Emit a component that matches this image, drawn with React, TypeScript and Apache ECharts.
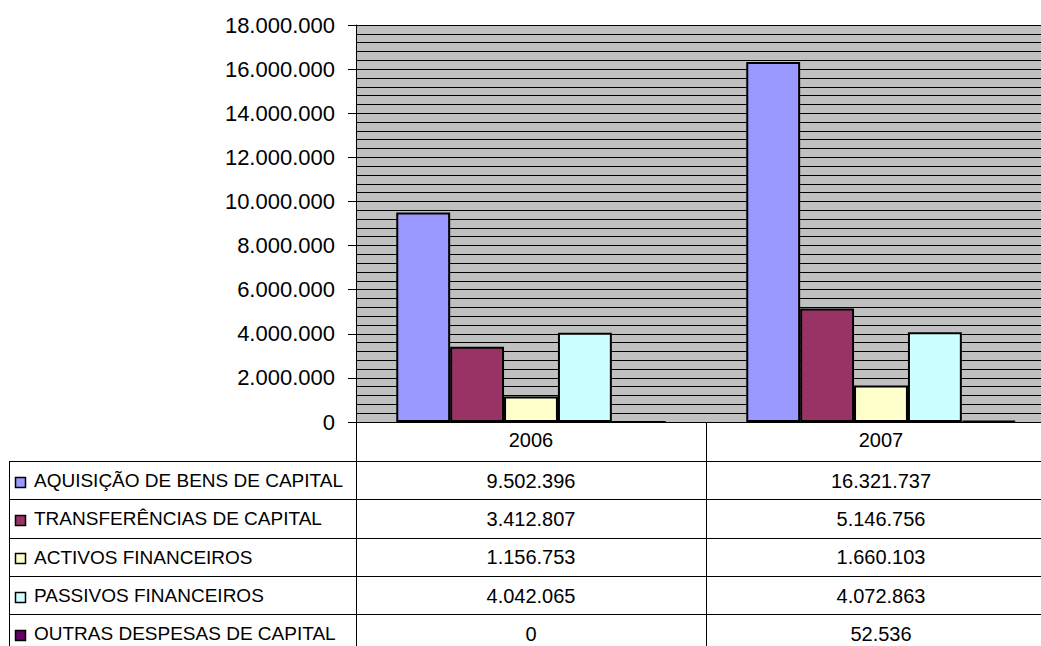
import React, { useEffect, useRef } from "react";
import * as echarts from "echarts";

const years = ["2006", "2007"];
const seriesNames = [
  "AQUISIÇÃO DE BENS DE CAPITAL",
  "TRANSFERÊNCIAS DE CAPITAL",
  "ACTIVOS FINANCEIROS",
  "PASSIVOS FINANCEIROS",
  "OUTRAS DESPESAS DE CAPITAL",
];
const aquisicao = [9502396, 16321737];
const transferencias = [3412807, 5146756];
const activos = [1156753, 1660103];
const passivos = [4042065, 4072863];
const outras = [0, 52536];
const seriesValues = [aquisicao, transferencias, activos, passivos, outras];
const seriesColors = ["#9999FF", "#993366", "#FFFFCC", "#CCFFFF", "#660066"];
const yMin = 0;
const yMax = 18000000;
const yStep = 2000000;

const fmt = (v: number) => String(v).replace(/\B(?=(\d{3})+(?!\d))/g, ".");

const W = 1041;
const H = 646;
const FONT = "'Liberation Sans', Arial, sans-serif";

export default function App() {
  const ref = useRef<HTMLDivElement>(null);
  useEffect(() => {
    document.body.style.margin = "0";
    const chart = echarts.init(ref.current!, undefined, { renderer: "svg" });
    const axisY = 422;
    const catCenter = 440;
    const firstRowTop = 461.5;
    const rowH = 38.3;
    const rowCenters = seriesNames.map((_, i) => firstRowTop + rowH * i + rowH / 2);
    const rowLines = seriesNames.map((_, i) => Math.round(firstRowTop + rowH * i - 0.5) + 0.5);

    const valueAxes = seriesValues.map((vals, i) => ({
      type: "category",
      gridIndex: 0,
      position: "bottom",
      data: vals.map(fmt),
      axisLine: { show: false },
      axisTick: { show: false },
      splitLine: { show: false },
      axisLabel: {
        interval: 0,
        margin: rowCenters[i] - axisY,
        verticalAlign: "middle",
        fontSize: 20,
        fontFamily: FONT,
        color: "#000",
      },
    }));

    const graphics: any[] = [];
    rowLines.forEach((y) => {
      graphics.push({
        type: "line",
        shape: { x1: 9, y1: y, x2: W, y2: y },
        style: { stroke: "#000", lineWidth: 1 },
        silent: true,
      });
    });
    graphics.push({
      type: "line",
      shape: { x1: 9.5, y1: rowLines[0], x2: 9.5, y2: H },
      style: { stroke: "#000", lineWidth: 1 },
      silent: true,
    });
    seriesNames.forEach((name, i) => {
      const cy = rowCenters[i] + 1;
      graphics.push({
        type: "rect",
        shape: { x: 15.5, y: Math.round(cy - 5) + 0.5, width: 10, height: 10 },
        style: { fill: seriesColors[i], stroke: "#000", lineWidth: 1.5 },
        silent: true,
      });
      graphics.push({
        type: "text",
        x: 34,
        y: rowCenters[i],
        style: {
          text: name,
          fontSize: 19,
          fontFamily: FONT,
          fill: "#000",
          verticalAlign: "middle",
          align: "left",
        },
        silent: true,
      });
    });

    chart.setOption({
      animation: false,
      backgroundColor: "#fff",
      grid: {
        left: 356,
        top: 25,
        right: -15,
        bottom: H - axisY,
        outerBoundsMode: "none",
        containLabel: false,
        show: true,
        backgroundColor: "#C0C0C0",
        borderWidth: 0,
      },
      xAxis: [
        {
          type: "category",
          data: years,
          position: "bottom",
          axisLine: { show: true, lineStyle: { color: "#000", width: 1 } },
          axisTick: {
            show: true,
            interval: 0,
            length: H - axisY,
            lineStyle: { color: "#000", width: 1 },
          },
          axisLabel: {
            interval: 0,
            margin: catCenter - axisY,
            verticalAlign: "middle",
            fontSize: 20,
            fontFamily: FONT,
            color: "#000",
          },
          splitLine: { show: false },
        },
        ...valueAxes,
      ],
      yAxis: {
        type: "value",
        min: yMin,
        max: yMax,
        interval: yStep,
        axisLine: { show: true, lineStyle: { color: "#000", width: 1 } },
        axisTick: { show: true, length: 8, lineStyle: { color: "#000" } },
        axisLabel: {
          margin: 21,
          fontSize: 22,
          fontFamily: FONT,
          color: "#000",
          formatter: (v: number) => fmt(v),
        },
        splitLine: { show: true, lineStyle: { color: "#000", width: 1 } },
        minorTick: { show: false, splitNumber: 5 },
        minorSplitLine: { show: true, lineStyle: { color: "#000", width: 1 } },
      },
      series: seriesNames.map((name, i) => ({
        name,
        type: "bar",
        xAxisIndex: 0,
        data: seriesValues[i],
        barGap: "0%",
        barCategoryGap: "23%",
        itemStyle: { color: seriesColors[i], borderColor: "#000", borderWidth: 2 },
        emphasis: { disabled: true },
      })),
      graphic: graphics,
    });
    return () => chart.dispose();
  }, []);
  return <div ref={ref} style={{ width: W, height: H }} />;
}
